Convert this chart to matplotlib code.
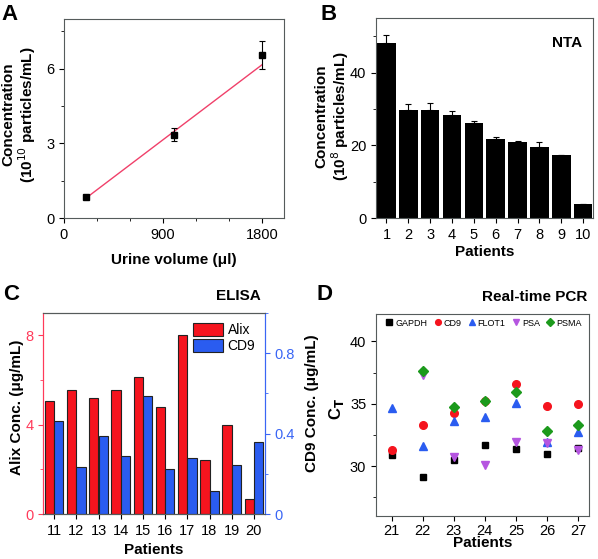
import numpy as np
import matplotlib
matplotlib.use("Agg")
import matplotlib.pyplot as plt
from matplotlib.ticker import MultipleLocator

plt.rcParams["font.family"] = ["Liberation Sans", "DejaVu Sans"]
plt.rcParams["font.size"] = 10
plt.rcParams["xtick.major.size"] = 3.5
plt.rcParams["ytick.major.size"] = 3.5
plt.rcParams["xtick.minor.size"] = 2
plt.rcParams["ytick.minor.size"] = 2

# ---- data ----
# A: NTA concentration vs urine volume
vol = [200, 1000, 1800]
conc_a = [0.85, 3.35, 6.55]
conc_a_err = [0.06, 0.25, 0.55]
fit_x = [200, 1800]
fit_y = [0.80, 6.16]

# B: NTA per patient
patients_b = list(range(1, 11))
conc_b = [48.0, 29.7, 29.7, 28.4, 26.2, 21.6, 21.0, 19.4, 17.2, 3.9]
conc_b_err = [2.3, 1.7, 1.9, 1.1, 0.4, 0.8, 0.3, 1.4, 0.2, 0.0]

# C: ELISA
patients_c = list(range(11, 21))
alix = [5.05, 5.53, 5.19, 5.53, 6.13, 4.78, 8.03, 2.42, 3.99, 0.67]
cd9 = [0.462, 0.236, 0.390, 0.290, 0.587, 0.222, 0.278, 0.115, 0.246, 0.356]

# D: real-time PCR Ct values
patients_d = list(range(21, 28))
ct_gapdh = [30.88, 29.12, 30.50, 31.71, 31.34, 30.99, 31.44]
ct_cd9 = [31.31, 33.26, 34.28, 35.21, 36.55, 34.81, 35.00]
ct_flot1 = [34.65, 31.58, 33.58, 33.96, 35.08, 31.93, 32.73]
ct_psa = [np.nan, 37.27, 30.72, 30.10, 31.93, 31.87, 31.26]
ct_psma = [np.nan, 37.62, 34.73, 35.19, 35.94, 32.78, 33.32]

W, H = 598, 559
fig = plt.figure(figsize=(W / 100, H / 100), dpi=100)


def px_axes(left, top, right, bottom):
    return fig.add_axes([left / W, 1 - bottom / H, (right - left) / W, (bottom - top) / H])


def ftext(x, y, s, **kw):
    fig.text(x / W, 1 - y / H, s, ha="center", va="center", **kw)


spine_gray = "#555b5b"
red = "#f5141e"
blue = "#2a5cf0"

# ---- panel A ----
ax = px_axes(64, 19, 284, 218)
ax.plot(fit_x, fit_y, color="#f0406a", lw=1)
ax.errorbar(vol, conc_a, yerr=conc_a_err, fmt="s", color="black", ms=5,
            capsize=2, elinewidth=0.8, capthick=0.8)
ax.set_xlim(0, 2000)
ax.set_ylim(0, 8)
ax.set_xticks([0, 900, 1800])
ax.set_yticks([0, 3, 6])
ax.xaxis.set_minor_locator(MultipleLocator(300))
ax.yaxis.set_minor_locator(MultipleLocator(1.5))
ax.set_xlabel("Urine volume (μl)", fontweight="bold", fontsize=11, va="top")
ax.xaxis.set_label_coords(0.5, -0.176)
ax.set_ylabel("Concentration\n(10$^{10}$ particles/mL)", fontweight="bold",
              fontsize=11, va="center", linespacing=1.05)
ax.yaxis.set_label_coords(-0.2, 0.52)
ftext(10, 15, "A", fontsize=16, fontweight="bold")

# ---- panel B ----
ax = px_axes(376, 18, 593, 218)
ax.bar(patients_b, conc_b, width=0.85, color="black",
       yerr=[np.zeros(len(conc_b_err)), conc_b_err],
       error_kw=dict(ecolor="black", elinewidth=0.8, capsize=2, capthick=0.8))
ax.set_xlim(0.52, 10.45)
ax.set_ylim(0, 55)
ax.set_xticks(patients_b)
ax.set_yticks([0, 20, 40])
ax.yaxis.set_minor_locator(MultipleLocator(10))
ax.text(0.88, 0.876, "NTA", transform=ax.transAxes, ha="center", va="center",
        fontweight="bold", fontsize=11)
ax.set_xlabel("Patients", fontweight="bold", fontsize=11, va="top")
ax.xaxis.set_label_coords(0.5, -0.137)
ax.set_ylabel("Concentration\n(10$^{8}$ particles/mL)", fontweight="bold",
              fontsize=11, va="center", linespacing=1.1)
ax.yaxis.set_label_coords(-0.2, 0.51)
ftext(329, 14, "B", fontsize=16, fontweight="bold")

# ---- panel C ----
ax = px_axes(43, 313, 265, 514)
ax2 = ax.twinx()
x_c = np.array(patients_c)
ax.bar(x_c - 0.21, alix, width=0.42, color=red, edgecolor="#222", lw=0.8, label="Alix")
ax2.bar(x_c + 0.21, cd9, width=0.42, color=blue, edgecolor="#222", lw=0.8, label="CD9")
ax.set_xlim(10.5, 20.5)
ax.set_ylim(0, 9)
ax2.set_ylim(0, 1.0)
ax.set_xticks(patients_c)
ax.set_yticks([0, 4, 8])
ax.yaxis.set_minor_locator(MultipleLocator(2))
ax2.set_yticks([0, 0.4, 0.8])
ax2.set_yticklabels(["0", "0.4", "0.8"])
ax2.yaxis.set_minor_locator(MultipleLocator(0.2))
lcol = "#ff3a5a"
rcol = "#3a66f5"
ax.spines["left"].set_color(lcol)
ax2.spines["left"].set_color(lcol)
ax.tick_params(axis="y", which="both", colors=lcol)
ax2.spines["right"].set_color(rcol)
ax.spines["right"].set_color(rcol)
ax2.tick_params(axis="y", which="both", colors=rcol)
ax.spines["top"].set_color(spine_gray)
ax2.spines["top"].set_color(spine_gray)
h1, l1 = ax.get_legend_handles_labels()
h2, l2 = ax2.get_legend_handles_labels()
ax2.legend(h1 + h2, l1 + l2, loc="upper right", frameon=False, fontsize=10,
           handlelength=2.2, handleheight=1.1, handletextpad=0.3,
           borderaxespad=0.3, labelspacing=0.1)
ax.set_xlabel("Patients", fontweight="bold", fontsize=11, va="top")
ax.xaxis.set_label_coords(0.5, -0.144)
ax.set_ylabel("Alix Conc. (μg/mL)", fontweight="bold", fontsize=11, va="center")
ax.yaxis.set_label_coords(-0.117, 0.53)
ax2.set_ylabel("CD9 Conc. (μg/mL)", fontweight="bold", fontsize=11, va="center",
               rotation=90)
ax2.yaxis.set_label_coords(1.21, 0.55)
ftext(238, 296, "ELISA", fontsize=11, fontweight="bold")
ftext(11, 295, "C", fontsize=16, fontweight="bold")

# ---- panel D ----
ax = px_axes(376, 314, 589, 516)
series = [
    ("GAPDH", ct_gapdh, "s", "black", 5),
    ("CD9", ct_cd9, "o", "#f5141e", 5.5),
    ("FLOT1", ct_flot1, "^", "#2a5cf0", 6),
    ("PSA", ct_psa, "v", "#b555e0", 6),
    ("PSMA", ct_psma, "D", "#1c9a1c", 5),
]
for name, vals, mk, col, ms in series:
    ax.plot(patients_d, vals, linestyle="none", marker=mk, color=col, ms=ms, label=name)
ax.set_xlim(20.5, 27.35)
ax.set_ylim(26, 42.2)
ax.set_xticks(patients_d)
ax.set_yticks([30, 35, 40])
ax.yaxis.set_minor_locator(MultipleLocator(2.5))
ax.legend(loc="upper center", ncol=5, frameon=False, fontsize=6.5,
          handletextpad=0.0, columnspacing=0.5, markerscale=0.75,
          borderaxespad=0.3, handlelength=1.3, borderpad=0.2)
ax.set_xlabel("Patients", fontweight="bold", fontsize=11, va="top")
ax.xaxis.set_label_coords(0.5, -0.1)
ax.tick_params(axis="x", pad=2)
ax.set_ylabel("C$_\\mathbf{T}$", fontweight="bold", fontsize=12, va="center")
ax.yaxis.set_label_coords(-0.185, 0.53)
ftext(535, 297, "Real-time PCR", fontsize=11, fontweight="bold")
ftext(324, 295, "D", fontsize=16, fontweight="bold")

for a in fig.axes:
    for s in ["top", "bottom", "left", "right"]:
        if a.spines[s].get_edgecolor()[:3] == (0.0, 0.0, 0.0):
            a.spines[s].set_color(spine_gray)
    a.tick_params(labelsize=10.5)

fig.savefig("out.png", dpi=100)
